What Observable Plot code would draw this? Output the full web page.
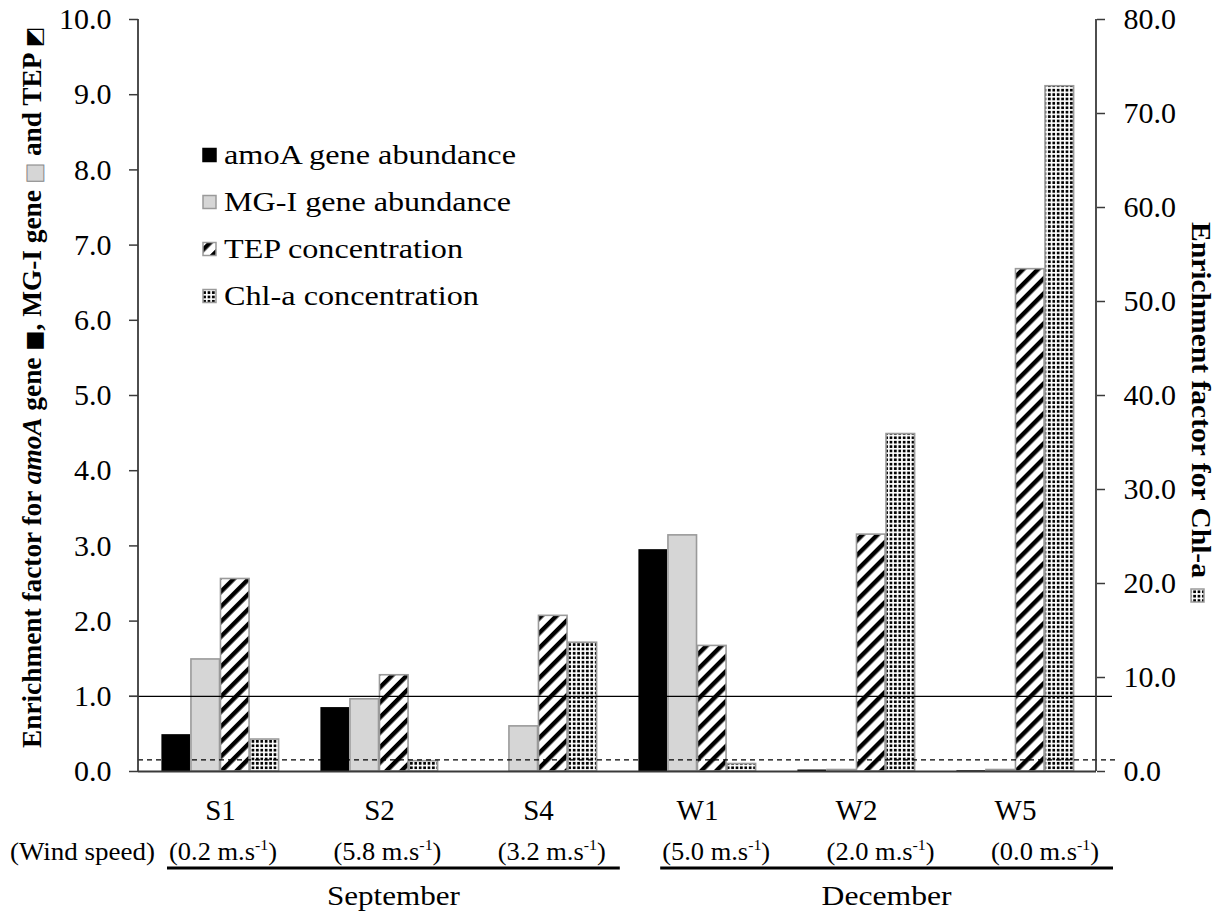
<!DOCTYPE html>
<html>
<head>
<meta charset="utf-8">
<script src="https://cdn.jsdelivr.net/npm/d3@7"></script>
<script src="https://cdn.jsdelivr.net/npm/@observablehq/plot@0.6"></script>
<style>
  html, body { margin: 0; padding: 0; background: #fff; }
  svg { display: block; }
</style>
</head>
<body>
<div id="chart"></div>
<script>
// ---------- data ----------
const sites = ["S1", "S2", "S4", "W1", "W2", "W5"];
const windSpeed = ["0.2", "5.8", "3.2", "5.0", "2.0", "0.0"];
const months = ["September", "December"];
const monthSites = [["S1", "S2", "S4"], ["W1", "W2", "W5"]];
const amoA = [0.49, 0.85, 0.00, 2.95, 0.02, 0.01];
const mgI  = [1.49, 0.96, 0.60, 3.14, 0.02, 0.02];
const tep  = [2.56, 1.28, 2.07, 1.67, 3.15, 6.68];
const chl  = [3.4, 1.1, 13.7, 0.8, 35.9, 72.9];   // right axis (0–80)
const leftTicks = [0, 1, 2, 3, 4, 5, 6, 7, 8, 9, 10];
const rightTicks = [0, 10, 20, 30, 40, 50, 60, 70, 80];
const chlRatio = 8;          // right axis = left axis × 8
const refSolid = 1.0;        // enrichment factor = 1
const refDashed = 0.155;     // dashed reference
const legendLabels = ["amoA gene abundance", "MG-I gene abundance", "TEP concentration", "Chl-a concentration"];

// ---------- layout ----------
const W = 1230, H = 911;
const mL = 138, mR = 134, mT = 19, mB = 140;
const pIn = 0.26, pOut = 0.13;
const bandW = (W - mL - mR) * (1 - pIn) / (sites.length - pIn + 2 * pOut);
const barW = bandW / 4;
const serif = "'Liberation Serif', 'Times New Roman', serif";
const axisColor = "#3a3a3a";
const barStroke = "#9a9a9a";

const rows = sites.map((s, i) => ({site: s, amoA: amoA[i], mgI: mgI[i], tep: tep[i], chl: chl[i] / chlRatio}));

const series = [
  {key: "amoA", fill: "#000", stroke: "none"},
  {key: "mgI",  fill: "#d6d6d6", stroke: barStroke},
  {key: "tep",  fill: "url(#tepPat)", stroke: barStroke},
  {key: "chl",  fill: "url(#chlPat)", stroke: barStroke}
];

const chart = Plot.plot({
  width: W, height: H,
  marginLeft: mL, marginRight: mR, marginTop: mT, marginBottom: mB,
  style: {fontFamily: serif, background: "#fff", color: "#000"},
  x: {domain: sites, paddingInner: pIn, paddingOuter: pOut, axis: null},
  y: {domain: [0, 10], axis: null},
  marks: [
    ...series.map((s, k) => Plot.barY(rows, {
      x: "site", y: s.key, fill: s.fill, stroke: s.stroke, strokeWidth: 1.6,
      insetLeft: k * barW + 0.4, insetRight: (3 - k) * barW + 0.4
    })),
    Plot.ruleY([refSolid], {stroke: "#000", strokeWidth: 1.3, insetLeft: -9, insetRight: -16}),
    Plot.ruleY([refDashed], {stroke: "#000", strokeWidth: 1.2, strokeDasharray: "5,4", insetRight: -19}),
    Plot.ruleY([0], {stroke: axisColor, strokeWidth: 2}),
    Plot.axisY({anchor: "left", ticks: leftTicks, tickFormat: d => d.toFixed(1), tickSize: 9, tickPadding: 18,
      fontSize: 30, label: null, stroke: axisColor, strokeWidth: 1.5}),
    Plot.axisY({anchor: "right", ticks: rightTicks.map(v => v / chlRatio),
      tickFormat: d => (d * chlRatio).toFixed(1), tickSize: 8, tickPadding: 19,
      fontSize: 30, label: null, stroke: axisColor, strokeWidth: 1.5}),
    Plot.axisX({anchor: "bottom", tickSize: 0, tickPadding: 28, fontSize: 29, label: null})
  ]
});

document.getElementById("chart").appendChild(chart);

// ---------- patterns ----------
chart.insertAdjacentHTML("afterbegin", `
<defs>
  <pattern id="tepPat" patternUnits="userSpaceOnUse" width="10.6" height="10.6" patternTransform="rotate(45)">
    <rect width="10.6" height="10.6" fill="#fff"/>
    <rect width="4.4" height="10.6" fill="#000"/>
  </pattern>
  <pattern id="chlPat" patternUnits="userSpaceOnUse" width="4.4" height="4.4">
    <rect width="4.4" height="4.4" fill="#fff"/>
    <rect x="0.8" y="0.8" width="2.7" height="2.7" fill="#000"/>
  </pattern>
</defs>`);

const svg = d3.select(chart);
const xs = chart.scale("x");
const ys = chart.scale("y");
const bw = xs.bandwidth ?? bandW;
const cx = s => xs.apply(s) + bw / 2;
const y0 = ys.apply(0), y10 = ys.apply(10);

// vertical axis lines
svg.append("line").attr("x1", mL).attr("x2", mL).attr("y1", y10).attr("y2", y0)
  .attr("stroke", axisColor).attr("stroke-width", 1.8);
svg.append("line").attr("x1", W - mR).attr("x2", W - mR).attr("y1", y10).attr("y2", y0)
  .attr("stroke", axisColor).attr("stroke-width", 1.8);

// ---------- wind-speed row ----------
const windY = 860;
svg.append("text").attr("x", 10).attr("y", windY).attr("text-anchor", "start")
  .attr("font-family", serif).attr("font-size", 25)
  .attr("textLength", 145).attr("lengthAdjust", "spacingAndGlyphs").text("(Wind speed)");
sites.forEach((s, i) => {
  const t = svg.append("text").attr("x", cx(s) + 3 + 5.4 * i).attr("y", windY)
    .attr("text-anchor", "middle").attr("font-family", serif).attr("font-size", 25)
    .attr("textLength", 108).attr("lengthAdjust", "spacingAndGlyphs");
  t.append("tspan").text(`(${windSpeed[i]} m.s`);
  t.append("tspan").attr("font-size", 15).attr("dy", -10).text("-1");
  t.append("tspan").attr("dy", 10).text(")");
});

// ---------- month brackets ----------
months.forEach((m, j) => {
  const list = monthSites[j];
  const first = sites.indexOf(list[0]), last = sites.indexOf(list[list.length - 1]);
  const xa = cx(list[0]) + 3 + 5.4 * first - 56;
  const xb = cx(list[list.length - 1]) + 3 + 5.4 * last + 56 + 12;
  svg.append("line").attr("x1", xa).attr("x2", xb).attr("y1", 868).attr("y2", 868)
    .attr("stroke", "#000").attr("stroke-width", 2.8);
  svg.append("text").attr("x", (xa + xb) / 2).attr("y", 905).attr("text-anchor", "middle")
    .attr("font-family", serif).attr("font-size", 28)
    .attr("textLength", m === "September" ? 133 : 130).attr("lengthAdjust", "spacingAndGlyphs").text(m);
});

// ---------- legend ----------
const legendY = [155, 202, 249, 296];
const legendW = [292, 287, 239, 255];
series.forEach((s, k) => {
  svg.append("rect").attr("x", 203).attr("y", legendY[k] - 6.5).attr("width", 13).attr("height", 13)
    .attr("fill", s.fill).attr("stroke", s.stroke === "none" ? "#000" : barStroke).attr("stroke-width", 1.5);
  svg.append("text").attr("x", 224).attr("y", legendY[k] + 9).attr("text-anchor", "start")
    .attr("font-family", serif).attr("font-size", 28)
    .attr("textLength", legendW[k]).attr("lengthAdjust", "spacingAndGlyphs").text(legendLabels[k]);
});

// ---------- axis titles ----------
const lt = svg.append("text").attr("transform", "translate(41,748) rotate(-90)").attr("text-anchor", "start")
  .attr("font-family", serif).attr("font-weight", "bold").attr("font-size", 28)
  .attr("textLength", 721).attr("lengthAdjust", "spacingAndGlyphs");
lt.append("tspan").text("Enrichment factor for ");
lt.append("tspan").attr("font-style", "italic").text("amoA");
lt.append("tspan").text(" gene ");
lt.append("tspan").attr("fill", "#000").attr("font-family", "DejaVu Sans").attr("font-size", 22).text("■");
lt.append("tspan").text(", MG-I gene ");
lt.append("tspan").attr("fill", "#d6d6d6").attr("stroke", "#8a8a8a").attr("stroke-width", 1)
  .attr("font-family", "DejaVu Sans").attr("font-size", 22).text("■");
lt.append("tspan").text(" and TEP ");
lt.append("tspan").attr("font-family", "DejaVu Sans").attr("font-size", 22).text("◩");

svg.append("text").attr("transform", "translate(1192,222) rotate(90)").attr("text-anchor", "start")
  .attr("font-family", serif).attr("font-weight", "bold").attr("font-size", 28)
  .attr("textLength", 356).attr("lengthAdjust", "spacingAndGlyphs")
  .text("Enrichment factor for Chl-a");
svg.append("rect").attr("x", 1191).attr("y", 589).attr("width", 13).attr("height", 13)
  .attr("fill", "url(#chlPat)").attr("stroke", barStroke).attr("stroke-width", 1.5);
</script>
</body>
</html>
